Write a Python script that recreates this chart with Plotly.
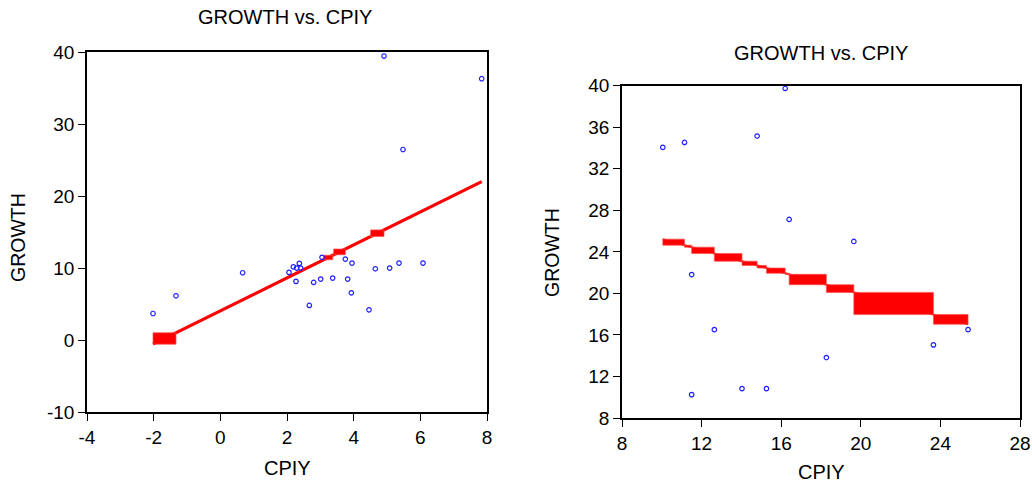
import numpy as np
import plotly.graph_objects as go

# ---------------- data ----------------
# Left panel: GROWTH vs. CPIY
left_cpiy = [4.91, 7.84, 5.48, -2.02, -1.33, 0.67, 2.06, 2.19, 2.29, 2.37, 2.41, 2.27,
             2.80, 3.01, 3.37, 3.05, 3.75, 3.95, 3.82, 3.93, 2.67, 4.46, 4.65, 5.08, 5.36, 6.08]
left_growth = [39.44, 36.29, 26.46, 3.68, 6.14, 9.34, 9.39, 10.17, 9.99, 10.64, 9.99, 8.14,
               8.00, 8.46, 8.60, 11.48, 11.24, 10.68, 8.46, 6.55, 4.80, 4.19, 9.89, 9.99, 10.68, 10.68]
left_fit_intercept = 4.05
left_fit_slope = 2.29
# x-intervals of the fitted line that are rendered as thick blocks
left_block_x0 = [-2.02, 3.10, 3.40, 4.51]
left_block_x1 = [-1.33, 3.37, 3.75, 4.91]

# Right panel: GROWTH vs. CPIY
right_cpiy = [10.05, 11.14, 14.79, 16.20, 16.40, 11.50, 19.65, 12.64, 25.39, 23.65,
              18.27, 11.50, 14.03, 15.26]
right_growth = [34.06, 34.54, 35.15, 39.74, 27.12, 21.81, 25.00, 16.51, 16.51, 15.04,
                13.82, 10.25, 10.83, 10.83]
right_fit_intercept = 30.59
right_fit_slope = -0.534

# axis ticks
left_xticks = [-4, -2, 0, 2, 4, 6, 8]
left_xlabels = ["-4", "-2", "0", "2", "4", "6", "8"]
left_yticks = [-10, 0, 10, 20, 30, 40]
left_ylabels = ["-10", "0", "10", "20", "30", "40"]
right_xticks = [8, 12, 16, 20, 24, 28]
right_xlabels = ["8", "12", "16", "20", "24", "28"]
right_yticks = [8, 12, 16, 20, 24, 28, 32, 36, 40]
right_ylabels = ["8", "12", "16", "20", "24", "28", "32", "36", "40"]

title_text = "GROWTH vs. CPIY"
x_title = "CPIY"
y_title = "GROWTH"

# ---------------- styling ----------------
FONT = "Liberation Sans, Arial, Helvetica, sans-serif"
RED = "#ff0000"
BLUE = "#2020ff"
W, H = 1032, 482


def fit(x, a, b):
    return a + b * np.asarray(x, dtype=float)


def rect_path(x0s, x1s, a, b):
    xs, ys = [], []
    for x0, x1 in zip(x0s, x1s):
        y0, y1 = fit(x0, a, b), fit(x1, a, b)
        lo, hi = min(y0, y1), max(y0, y1)
        xs += [x0, x1, x1, x0, x0, None]
        ys += [lo, lo, hi, hi, lo, None]
    return xs, ys


fig = go.Figure()

# ---- left panel ----
lx = np.sort(np.array(left_cpiy))
fig.add_trace(go.Scatter(x=lx, y=fit(lx, left_fit_intercept, left_fit_slope), mode="lines",
                         line=dict(color=RED, width=3.2), xaxis="x", yaxis="y",
                         hoverinfo="skip", showlegend=False))
bx, by = rect_path(left_block_x0, left_block_x1, left_fit_intercept, left_fit_slope)
fig.add_trace(go.Scatter(x=bx, y=by, mode="lines", fill="toself", fillcolor=RED,
                         line=dict(color="rgba(255,80,80,0.7)", width=1),
                         xaxis="x", yaxis="y", hoverinfo="skip", showlegend=False))
fig.add_trace(go.Scatter(x=left_cpiy, y=left_growth, mode="markers",
                         marker=dict(symbol="circle-open", size=4.5, color=BLUE,
                                     line=dict(color=BLUE, width=1.2)),
                         xaxis="x", yaxis="y", showlegend=False))

# ---- right panel ----
rx = np.sort(np.unique(np.array(right_cpiy)))
fig.add_trace(go.Scatter(x=rx, y=fit(rx, right_fit_intercept, right_fit_slope), mode="lines",
                         line=dict(color=RED, width=2), xaxis="x2", yaxis="y2",
                         hoverinfo="skip", showlegend=False))
bx2, by2 = rect_path(rx[:-1], rx[1:], right_fit_intercept, right_fit_slope)
fig.add_trace(go.Scatter(x=bx2, y=by2, mode="lines", fill="toself", fillcolor=RED,
                         line=dict(color="rgba(255,80,80,0.7)", width=1),
                         xaxis="x2", yaxis="y2", hoverinfo="skip", showlegend=False))
fig.add_trace(go.Scatter(x=right_cpiy, y=right_growth, mode="markers",
                         marker=dict(symbol="circle-open", size=4.5, color=BLUE,
                                     line=dict(color=BLUE, width=1.2)),
                         xaxis="x2", yaxis="y2", showlegend=False))

axis_common = dict(showline=True, mirror=True, linecolor="black", linewidth=1.5,
                   ticks="outside", ticklen=7, tickwidth=1.2, tickcolor="black",
                   showgrid=False, zeroline=False, automargin=False,
                   tickfont=dict(family=FONT, size=19, color="black"))

fig.update_layout(
    width=W, height=H,
    margin=dict(l=0, r=0, t=0, b=0, autoexpand=False),
    paper_bgcolor="white", plot_bgcolor="white",
    xaxis=dict(domain=[87 / W, 487 / W], range=[-4, 8], tickvals=left_xticks,
               ticktext=left_xlabels, anchor="y", **axis_common),
    yaxis=dict(domain=[70 / H, 430 / H], range=[-10, 40], tickvals=left_yticks,
               ticktext=left_ylabels, anchor="x", **axis_common),
    xaxis2=dict(domain=[622 / W, 1020 / W], range=[8, 28], tickvals=right_xticks,
                ticktext=right_xlabels, anchor="y2", **axis_common),
    yaxis2=dict(domain=[64 / H, 396.3 / H], range=[8, 40], tickvals=right_yticks,
                ticktext=right_ylabels, anchor="x2", **axis_common),
    showlegend=False,
)


def ann(text, xp, yp, size, angle=0):
    fig.add_annotation(text=text, x=xp / W, y=1 - yp / H, xref="paper", yref="paper",
                       showarrow=False, textangle=angle, xanchor="center", yanchor="middle",
                       font=dict(family=FONT, size=size, color="black"))


ann(title_text, 285, 17, 20)
ann(title_text, 821, 52.5, 20)
ann(x_title, 287, 467.7, 20)
ann(x_title, 821.7, 471.7, 20)
ann(y_title, 18, 238, 19.5, -90)
ann(y_title, 551.5, 252.5, 19.5, -90)

fig.write_html("out.html", config={"displayModeBar": False},
               post_script="document.body.style.margin='0';"
                           "document.body.style.padding='0';"
                           "document.body.style.overflow='hidden';")
